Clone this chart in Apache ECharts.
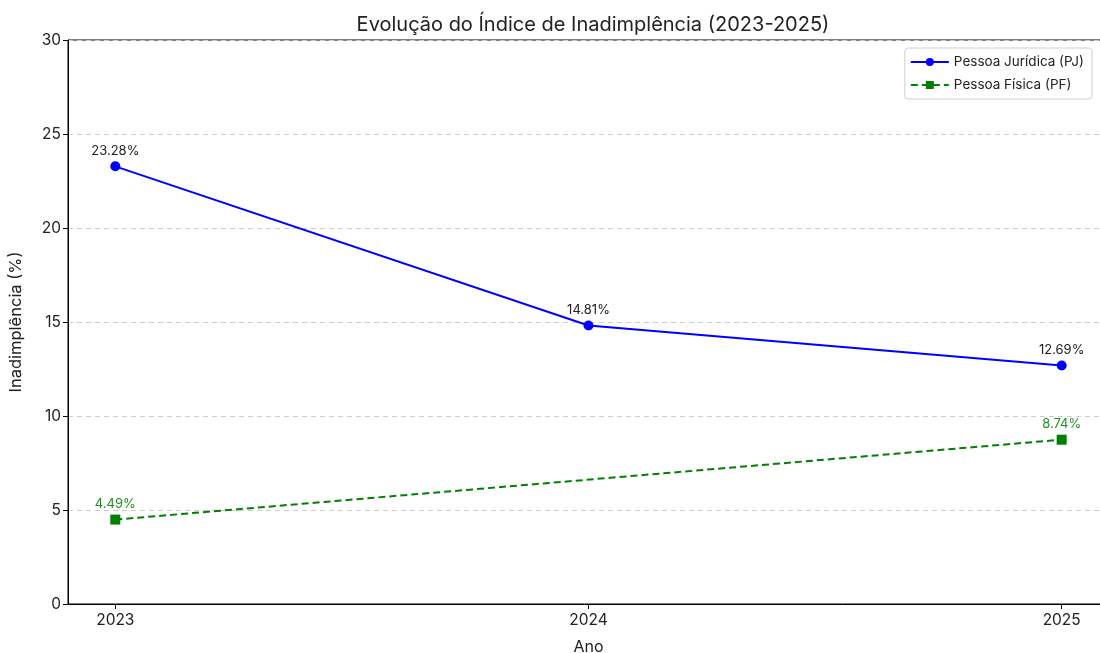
<!DOCTYPE html>
<html>
<head>
<meta charset="utf-8">
<script src="https://cdn.jsdelivr.net/npm/echarts@6/dist/echarts.min.js"></script>
<style>
  html, body { margin: 0; padding: 0; background: #fff; }
  #chart { width: 1100px; height: 653px; }
</style>
</head>
<body>
<div id="chart"></div>
<script>
  // dados
  var anos = [2023, 2024, 2025];
  var pjValores = [23.28, 14.81, 12.69];
  var pfAnos = [2023, 2025];
  var pfValores = [4.49, 8.74];
  var yTicks = [0, 5, 10, 15, 20, 25, 30];

  var fonte = 'Inter';
  var pjData = anos.map(function (a, i) { return [a, pjValores[i]]; });
  var pfData = pfAnos.map(function (a, i) { return [a, pfValores[i]]; });

  var myChart = echarts.init(document.getElementById('chart'));
  var options = {
    animation: false,
    textStyle: { fontFamily: fonte },
    title: {
      text: 'Evolução do Índice de Inadimplência (2023-2025)',
      left: 588,
      textAlign: 'center',
      top: 10,
      textStyle: { fontFamily: fonte, fontSize: 20, fontWeight: 'normal', color: '#222' }
    },
    legend: {
      right: 8,
      top: 48,
      orient: 'vertical',
      itemWidth: 38,
      itemHeight: 10,
      itemGap: 9,
      padding: [7, 8, 7, 5],
      borderColor: '#d0d0d0',
      borderWidth: 1,
      borderRadius: 3,
      backgroundColor: '#fff',
      textStyle: { fontFamily: fonte, fontSize: 13.5, color: '#222' },
      data: ['Pessoa Jurídica (PJ)', 'Pessoa Física (PF)']
    },
    grid: {
      left: 68,
      width: 1041,
      top: 40,
      bottom: 49,
      outerBoundsMode: 'none',
      show: true,
      borderColor: '#000',
      borderWidth: 1
    },
    xAxis: {
      type: 'value',
      min: 2022.9,
      max: 2025.1,
      name: 'Ano',
      nameLocation: 'middle',
      nameGap: 35,
      nameTextStyle: { fontFamily: fonte, fontSize: 16, color: '#222' },
      axisLine: { onZero: false, lineStyle: { color: '#000' } },
      axisTick: { show: true, length: 5, customValues: anos, lineStyle: { color: '#000' } },
      axisLabel: { customValues: anos, fontSize: 15.5, color: '#222', margin: 8,
        formatter: function (v) { return String(v); } },
      splitLine: { show: false }
    },
    yAxis: {
      type: 'value',
      min: 0,
      max: 30,
      interval: 5,
      name: 'Inadimplência (%)',
      nameLocation: 'middle',
      nameGap: 43,
      nameTextStyle: { fontFamily: fonte, fontSize: 16.5, color: '#222' },
      axisLine: { show: true, lineStyle: { color: '#000' } },
      axisTick: { show: true, length: 5, lineStyle: { color: '#000' } },
      axisLabel: { fontSize: 15.5, color: '#222', margin: 7,
        formatter: function (v) { return yTicks.indexOf(v) >= 0 ? String(v) : ''; } },
      splitLine: { show: true, lineStyle: { color: '#cccccc', type: [5, 4], width: 1 } }
    },
    series: [
      {
        name: 'Pessoa Jurídica (PJ)',
        type: 'line',
        data: pjData,
        symbol: 'circle',
        symbolSize: 10,
        lineStyle: { color: '#0000ff', width: 2 },
        itemStyle: { color: '#0000ff' },
        label: {
          show: true,
          position: 'top',
          distance: 4,
          fontSize: 13,
          color: '#222',
          formatter: function (p) { return p.value[1].toFixed(2) + '%'; }
        },
        z: 3
      },
      {
        name: 'Pessoa Física (PF)',
        type: 'line',
        data: pfData,
        symbol: 'rect',
        symbolSize: 10,
        lineStyle: { color: '#008000', width: 2, type: [7, 4] },
        itemStyle: { color: '#008000' },
        label: {
          show: true,
          position: 'top',
          distance: 4,
          fontSize: 13,
          color: '#1f8f1f',
          formatter: function (p) { return p.value[1].toFixed(2) + '%'; }
        },
        z: 2
      }
    ]
  };
  myChart.setOption(options);
</script>
</body>
</html>
